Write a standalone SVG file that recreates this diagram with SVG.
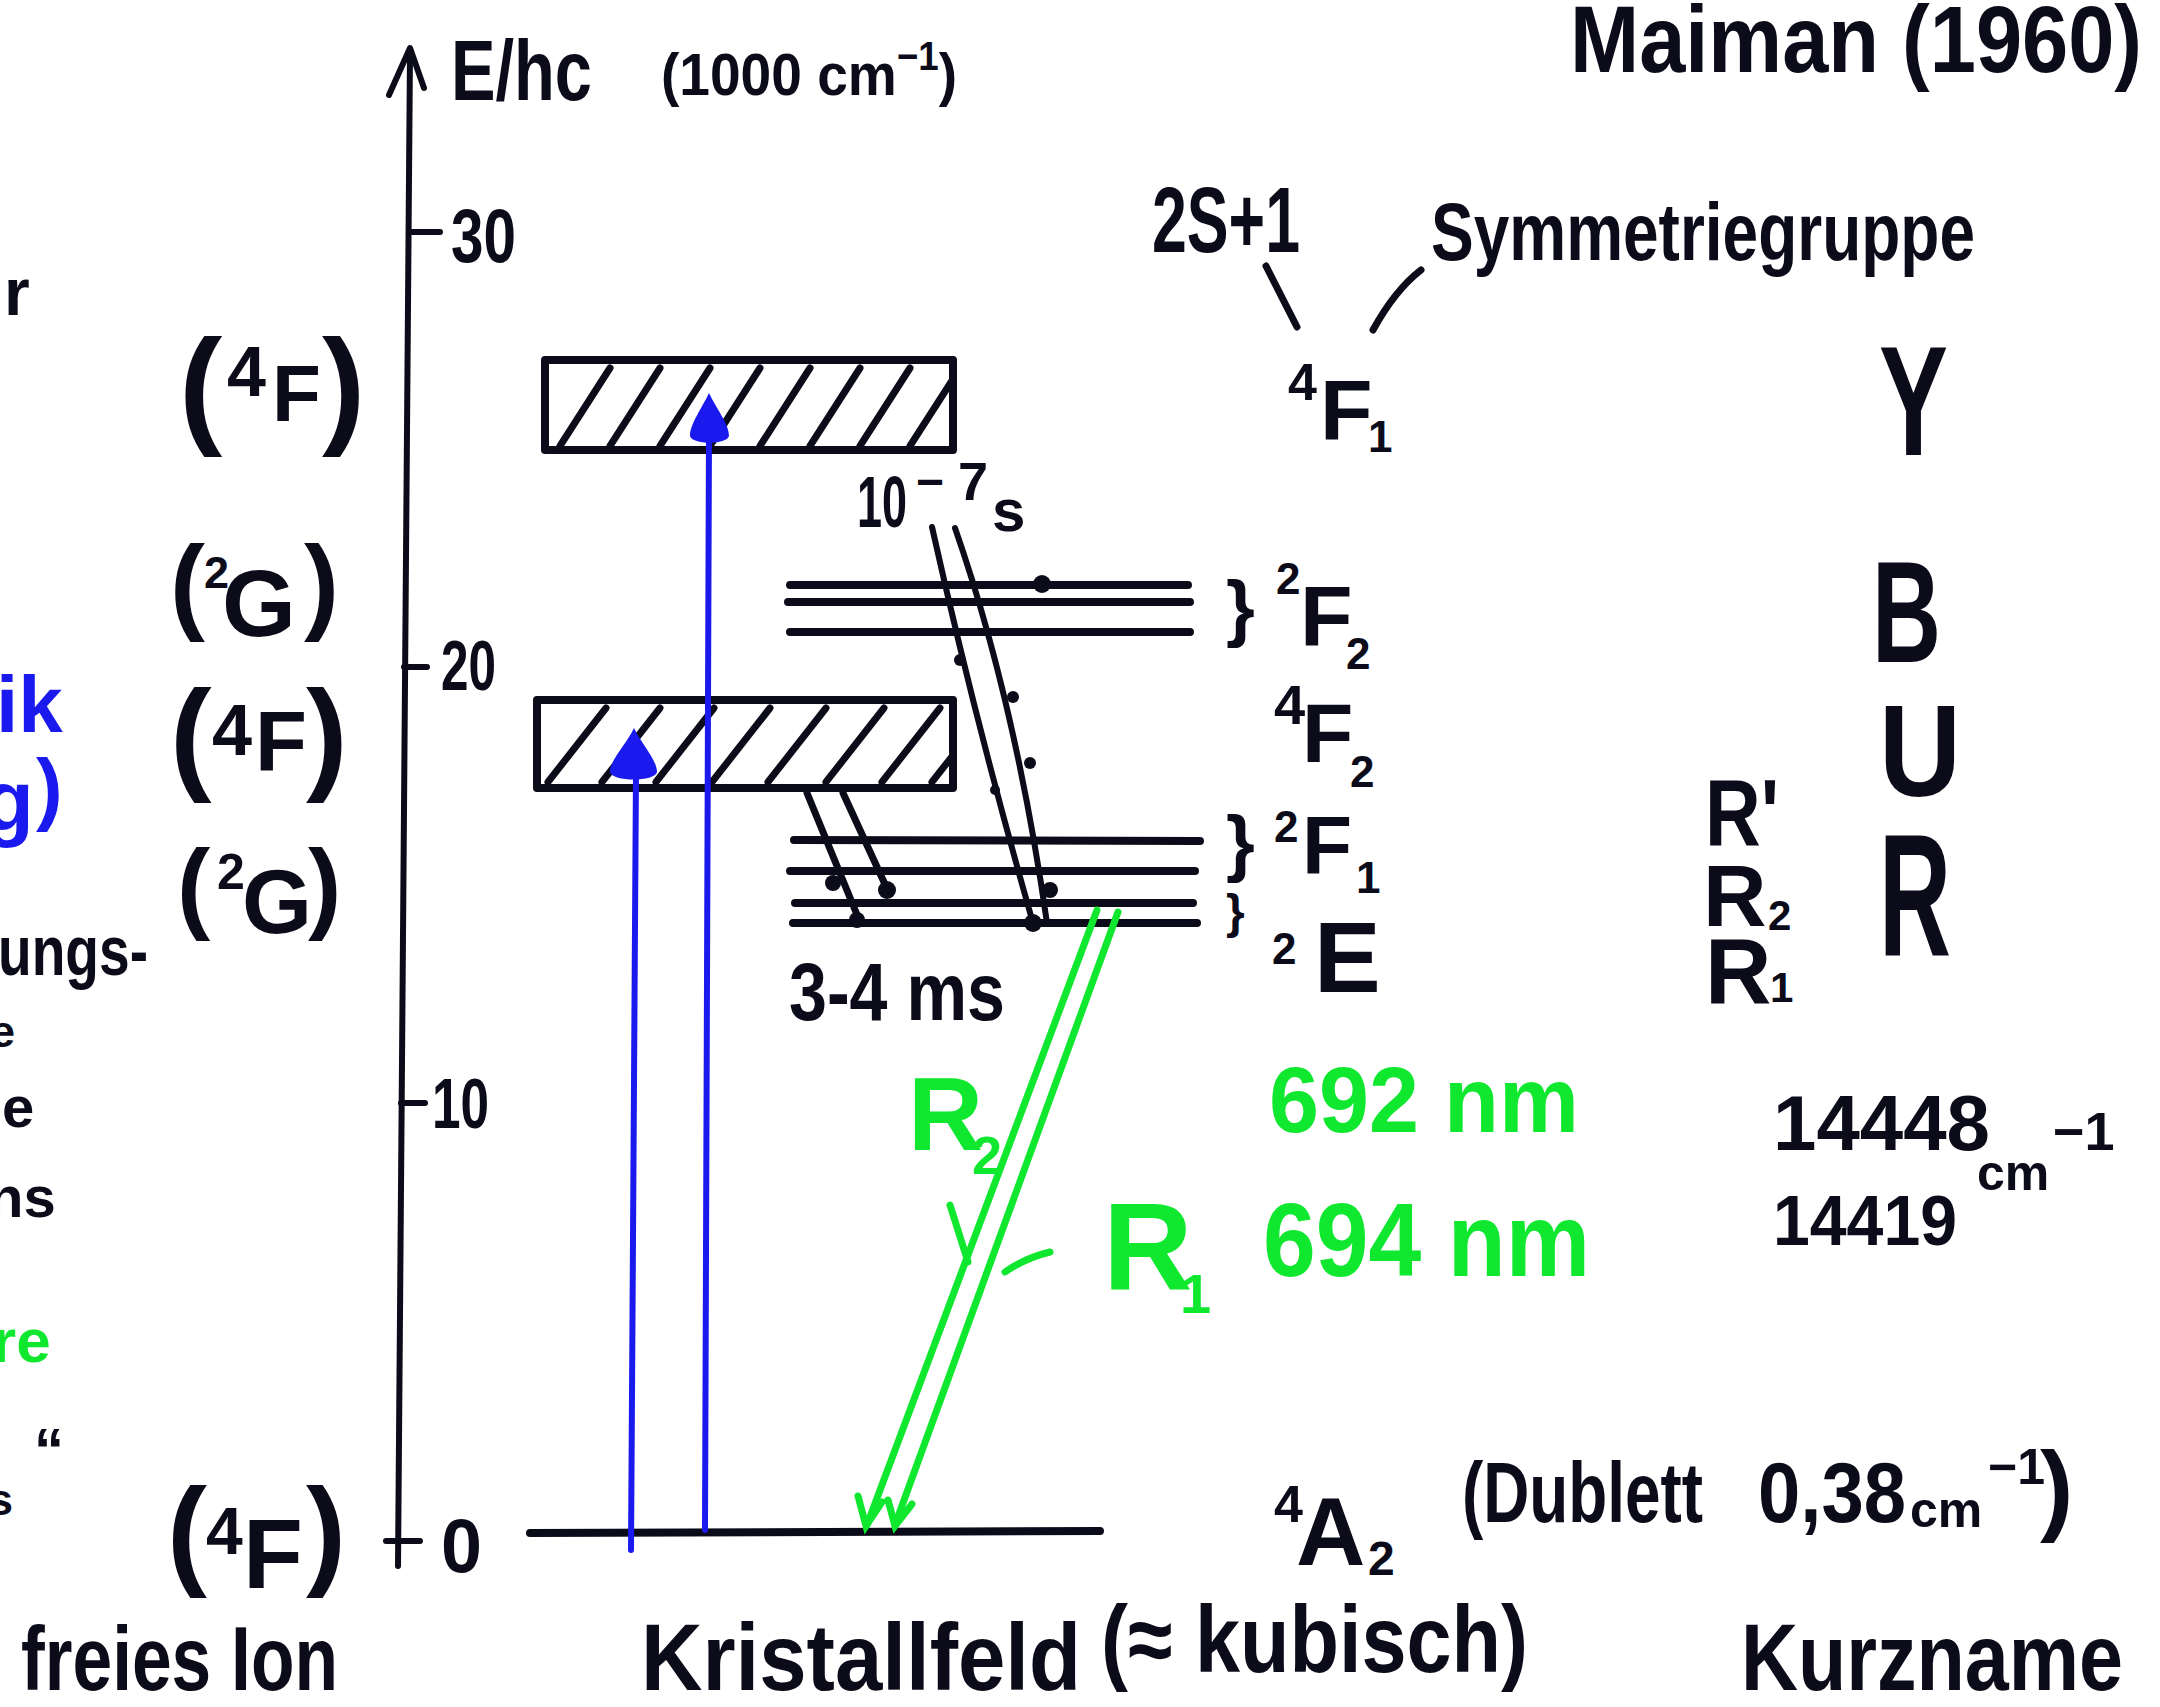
<svg xmlns="http://www.w3.org/2000/svg" width="2160" height="1707" viewBox="0 0 2160 1707">
<style>
.hw{font-family:"Liberation Sans","DejaVu Sans",sans-serif;font-weight:bold;fill:#0b0b1a}
.bl{font-family:"Liberation Sans","DejaVu Sans",sans-serif;font-weight:bold;fill:#1a1aee}
.gr{font-family:"Liberation Sans","DejaVu Sans",sans-serif;font-weight:bold;fill:#10e830}
.k{stroke:#0b0b1a;fill:none;stroke-linecap:round;stroke-linejoin:round}
.lvl{stroke:#0b0b1a;stroke-width:8;stroke-linecap:round;fill:none}
.blue{stroke:#1a1aee;stroke-width:6;fill:none;stroke-linecap:round}
.green{stroke:#10e830;stroke-width:7;fill:none;stroke-linecap:round}
.hatch{stroke:#0b0b1a;stroke-width:7;stroke-linecap:round}
</style>
<defs>
<clipPath id="cTop"><rect x="549" y="364" width="400" height="82"/></clipPath>
<clipPath id="cLow"><rect x="541" y="704" width="408" height="80"/></clipPath>
</defs>
<rect width="2160" height="1707" fill="#ffffff"/>

<!-- axis -->
<g id="axis">
<path class="k" stroke-width="6" d="M410,52 L398,1566"/>
<path class="k" stroke-width="6" d="M389,95 L410,48 L424,88"/>
<path class="k" stroke-width="6" d="M410,232 L440,232 M404,667 L427,667 M401,1103 L425,1103 M386,1541 L420,1541"/>
<text class="hw" x="451" y="100" font-size="85" textLength="141" lengthAdjust="spacingAndGlyphs">E/hc</text>
<text class="hw" x="661" y="95" font-size="60" textLength="296" lengthAdjust="spacingAndGlyphs">(1000 cm<tspan dy="-25" font-size="40">−1</tspan><tspan dy="25">)</tspan></text>
<text class="hw" x="451" y="262" font-size="76" textLength="65" lengthAdjust="spacingAndGlyphs">30</text>
<text class="hw" x="441" y="690" font-size="70" textLength="55" lengthAdjust="spacingAndGlyphs">20</text>
<text class="hw" x="432" y="1128" font-size="70" textLength="57" lengthAdjust="spacingAndGlyphs">10</text>
<text class="hw" x="441" y="1572" font-size="76" textLength="41" lengthAdjust="spacingAndGlyphs">0</text>
</g>

<!-- free ion labels -->
<g id="free-ion">
<text class="hw" font-size="130" x="179" y="430">(<tspan x="227" y="396" font-size="70">4</tspan><tspan x="272" y="421" font-size="80">F</tspan><tspan x="322" y="430">)</tspan></text>
<text class="hw" font-size="105" x="170" y="620">(<tspan x="204" y="588" font-size="45">2</tspan><tspan x="222" y="636" font-size="95">G</tspan><tspan x="304" y="620">)</tspan></text>
<text class="hw" font-size="125" x="170" y="777">(<tspan x="212" y="755" font-size="72">4</tspan><tspan x="255" y="771" font-size="85">F</tspan><tspan x="306" y="777">)</tspan></text>
<text class="hw" font-size="100" x="177" y="920">(<tspan x="217" y="889" font-size="50">2</tspan><tspan x="242" y="933" font-size="90">G</tspan><tspan x="308" y="920">)</tspan></text>
<text class="hw" font-size="120" x="167" y="1573">(<tspan x="206" y="1554" font-size="66">4</tspan><tspan x="243" y="1588" font-size="98">F</tspan><tspan x="306" y="1573">)</tspan></text>
<text class="hw" x="21" y="1690" font-size="90" textLength="317" lengthAdjust="spacingAndGlyphs">freies Ion</text>
</g>

<!-- left margin fragments -->
<g id="margin">
<text class="hw" x="4" y="315" font-size="66">r</text>
<text class="bl" x="-4" y="732" font-size="80">ik</text>
<text class="bl" x="-18" y="830" font-size="85">g<tspan x="36" y="815" font-size="80">)</tspan></text>
<text class="hw" x="-2" y="975" font-size="70" textLength="150" lengthAdjust="spacingAndGlyphs">ungs-</text>
<text class="hw" x="-10" y="1047" font-size="45">e</text>
<text class="hw" x="-14" y="1127" font-size="58">le</text>
<text class="hw" x="-12" y="1217" font-size="58">ns</text>
<text class="gr" x="-8" y="1362" font-size="62">re</text>
<text class="hw" x="34" y="1470" font-size="60">“</text>
<text class="hw" x="-12" y="1515" font-size="45">s</text>
</g>

<!-- crystal field levels -->
<g id="level-4F1">
<rect x="545" y="360" width="408" height="90" fill="none" stroke="#0b0b1a" stroke-width="8" stroke-linejoin="round"/>
<g clip-path="url(#cTop)">
<path class="hatch" d="M560,446 L610,368 M610,446 L660,368 M660,446 L710,368 M710,446 L760,368 M760,446 L810,368 M810,446 L860,368 M860,446 L910,368 M910,446 L960,368"/>
</g>
</g>
<g id="level-4F2">
<rect x="537" y="700" width="416" height="88" fill="none" stroke="#0b0b1a" stroke-width="8" stroke-linejoin="round"/>
<g clip-path="url(#cLow)">
<path class="hatch" d="M548,782 L606,708 M602,782 L660,708 M656,782 L714,708 M712,782 L770,708 M768,782 L826,708 M826,782 L884,708 M882,782 L940,708 M932,782 L990,708"/>
</g>
</g>
<g id="level-2F2">
<path class="lvl" d="M790,585 L1188,585 M788,602 L1190,602 M790,632 L1190,632"/>
<circle cx="1042" cy="584" r="9" fill="#0b0b1a"/>
</g>
<g id="level-2F1">
<path class="lvl" stroke-width="18" d="M794,840 L1200,841"/>
<path class="lvl" d="M790,871 L1195,871"/>
</g>
<g id="level-2E">
<path class="lvl" d="M795,903 L1193,903 M793,923 L1197,923"/>
</g>
<g id="level-4A2">
<path class="lvl" stroke-width="9" d="M530,1533 L1100,1531"/>
</g>

<!-- transitions -->
<g id="connectors">
<path class="blue" d="M631,1550 L636,770"/>
<path d="M634,728 C626,745 610,760 610,772 C612,782 655,782 657,772 C657,760 642,745 634,728 Z" fill="#1a1aee"/>
<path class="blue" d="M705,1530 L709,430"/>
<path d="M709,393 C702,408 690,424 690,436 C692,445 727,445 729,436 C729,424 716,408 709,393 Z" fill="#1a1aee"/>

<path class="k" stroke-width="6" d="M932,527 Q975,720 1033,923"/>
<path class="k" stroke-width="6" d="M955,528 Q1015,700 1047,923"/>
<circle cx="960" cy="660" r="6" fill="#0b0b1a"/>
<circle cx="1013" cy="697" r="6" fill="#0b0b1a"/>
<circle cx="1030" cy="763" r="6" fill="#0b0b1a"/>
<circle cx="995" cy="790" r="5" fill="#0b0b1a"/>
<circle cx="1050" cy="890" r="8" fill="#0b0b1a"/>
<circle cx="1033" cy="923" r="9" fill="#0b0b1a"/>

<path class="k" stroke-width="7" d="M807,793 L860,922"/>
<path class="k" stroke-width="7" d="M843,793 L889,893"/>
<circle cx="833" cy="883" r="8" fill="#0b0b1a"/>
<circle cx="887" cy="890" r="9" fill="#0b0b1a"/>
<circle cx="857" cy="920" r="8" fill="#0b0b1a"/>

<path class="green" d="M1097,910 L867,1525"/>
<path class="green" d="M1118,912 L895,1525"/>
<path class="green" stroke-width="6" d="M858,1496 L866,1526 L882,1502 M888,1500 L895,1526 L912,1504"/>
<path class="green" stroke-width="7" d="M950,1205 L968,1262 M1005,1272 Q1025,1258 1050,1252"/>
</g>

<!-- labels -->
<g id="labels">
<text class="hw" x="1570" y="72" font-size="95" textLength="572" lengthAdjust="spacingAndGlyphs">Maiman (1960)</text>
<text class="hw" x="1152" y="252" font-size="92" textLength="148" lengthAdjust="spacingAndGlyphs">2S+1</text>
<text class="hw" x="1431" y="260" font-size="82" textLength="544" lengthAdjust="spacingAndGlyphs">Symmetriegruppe</text>
<path class="k" stroke-width="7" d="M1266,266 L1297,327 M1421,270 Q1395,290 1373,330"/>

<text class="hw" font-size="52" x="1288" y="400">4<tspan x="1320" y="440" font-size="86">F</tspan><tspan x="1368" y="452" font-size="44">1</tspan></text>
<text class="hw" font-size="74" x="1226" y="633">}<tspan x="1276" y="594" font-size="44">2</tspan><tspan x="1300" y="646" font-size="86">F</tspan><tspan x="1346" y="669" font-size="44">2</tspan></text>
<text class="hw" font-size="56" x="1274" y="724">4<tspan x="1302" y="762" font-size="84">F</tspan><tspan x="1350" y="787" font-size="44">2</tspan></text>
<text class="hw" font-size="74" x="1226" y="868">}<tspan x="1274" y="842" font-size="44">2</tspan><tspan x="1302" y="874" font-size="82">F</tspan><tspan x="1356" y="893" font-size="44">1</tspan></text>
<text class="hw" font-size="48" x="1226" y="928">}<tspan x="1272" y="964" font-size="44">2</tspan><tspan x="1314" y="992" font-size="100">E</tspan></text>

<text class="hw" font-size="52" x="1274" y="1522">4<tspan x="1296" y="1565" font-size="96">A</tspan><tspan x="1368" y="1575" font-size="48">2</tspan></text>
<text class="hw" x="1462" y="1522" font-size="85" textLength="241" lengthAdjust="spacingAndGlyphs">(Dublett</text>
<text class="hw" x="1758" y="1522" font-size="85" textLength="148" lengthAdjust="spacingAndGlyphs">0,38</text>
<text class="hw" x="1910" y="1527" font-size="50">cm<tspan x="1988" y="1484" font-size="50">−1</tspan><tspan x="2040" y="1522" font-size="100">)</tspan></text>

<text class="hw" x="857" y="527" font-size="72" textLength="50" lengthAdjust="spacingAndGlyphs">10</text>
<text class="hw" x="916" y="498" font-size="48">−<tspan x="958" y="500" font-size="54">7</tspan><tspan x="992" y="531" font-size="60">s</tspan></text>

<text class="hw" x="789" y="1020" font-size="82" textLength="216" lengthAdjust="spacingAndGlyphs">3-4 ms</text>

<text class="gr" x="908" y="1150" font-size="104">R<tspan x="972" y="1174" font-size="54">2</tspan></text>
<text class="gr" x="1103" y="1290" font-size="124">R<tspan x="1180" y="1313" font-size="56">1</tspan></text>
<text class="gr" x="1269" y="1132" font-size="92" textLength="310" lengthAdjust="spacingAndGlyphs">692 nm</text>
<text class="gr" x="1263" y="1276" font-size="104" textLength="327" lengthAdjust="spacingAndGlyphs">694 nm</text>

<text class="hw" x="1773" y="1150" font-size="78" textLength="217" lengthAdjust="spacingAndGlyphs">14448</text>
<text class="hw" x="1977" y="1190" font-size="50">cm<tspan x="2053" y="1150" font-size="54">−1</tspan></text>
<text class="hw" x="1773" y="1245" font-size="70" textLength="184" lengthAdjust="spacingAndGlyphs">14419</text>

<text class="hw" x="1705" y="846" font-size="95" textLength="74" lengthAdjust="spacingAndGlyphs">R'</text>
<text class="hw" x="1703" y="926" font-size="88">R<tspan x="1768" y="930" font-size="42">2</tspan></text>
<text class="hw" x="1705" y="1003" font-size="92">R<tspan x="1770" y="1002" font-size="42">1</tspan></text>

<text class="hw" x="1879" y="455" font-size="155" textLength="69" lengthAdjust="spacingAndGlyphs">Y</text>
<text class="hw" x="1872" y="662" font-size="145" textLength="69" lengthAdjust="spacingAndGlyphs">B</text>
<text class="hw" x="1879" y="796" font-size="130" textLength="82" lengthAdjust="spacingAndGlyphs">U</text>
<text class="hw" x="1879" y="956" font-size="175" textLength="72" lengthAdjust="spacingAndGlyphs">R</text>

<text class="hw" x="641" y="1690" font-size="95" textLength="440" lengthAdjust="spacingAndGlyphs">Kristallfeld</text>
<text class="hw" x="1101" y="1672" font-size="95" textLength="427" lengthAdjust="spacingAndGlyphs">(≈ kubisch)</text>
<text class="hw" x="1741" y="1690" font-size="95" textLength="382" lengthAdjust="spacingAndGlyphs">Kurzname</text>
</g>
</svg>
